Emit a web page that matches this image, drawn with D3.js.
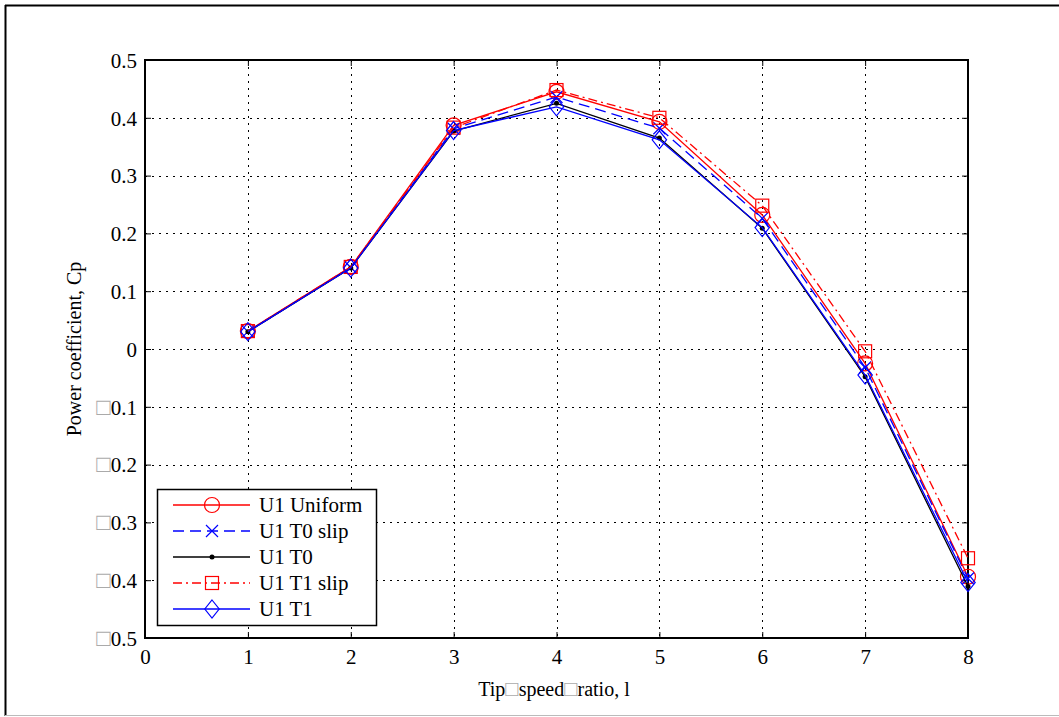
<!DOCTYPE html>
<html>
<head>
<meta charset="utf-8">
<script src="https://cdn.jsdelivr.net/npm/d3@7"></script>
<style>
  body { margin: 0; background: #fff; }
  svg text { font-family: "Liberation Serif", "Times New Roman", serif !important; fill: #000; }
</style>
</head>
<body>
<svg id="chart" width="1059" height="717"></svg>
<script>
const tsr = [1, 2, 3, 4, 5, 6, 7, 8];
const u1Uniform = [0.031, 0.142, 0.387, 0.445, 0.393, 0.232, -0.025, -0.394];
const u1T0slip = [0.030, 0.141, 0.381, 0.436, 0.382, 0.226, -0.032, -0.397];
const u1T0 = [0.030, 0.140, 0.377, 0.425, 0.365, 0.209, -0.048, -0.411];
const u1T1slip = [0.031, 0.142, 0.383, 0.448, 0.400, 0.248, -0.004, -0.362];
const u1T1 = [0.030, 0.140, 0.378, 0.419, 0.362, 0.210, -0.045, -0.404];
const xTicks = [0, 1, 2, 3, 4, 5, 6, 7, 8];
const yTicks = [0.5, 0.4, 0.3, 0.2, 0.1, 0, -0.1, -0.2, -0.3, -0.4, -0.5];

const series = [
  { name: "U1 Uniform", values: u1Uniform, color: "#ff0000", dash: null, marker: "circle" },
  { name: "U1 T0 slip", values: u1T0slip, color: "#0000ff", dash: "11,6", marker: "x" },
  { name: "U1 T0", values: u1T0, color: "#000000", dash: null, marker: "dot" },
  { name: "U1 T1 slip", values: u1T1slip, color: "#ff0000", dash: "9,4,2,4", marker: "square" },
  { name: "U1 T1", values: u1T1, color: "#0000ff", dash: null, marker: "diamond" }
];

const svg = d3.select("#chart");
const mLeft = 145, mRight = 968, mTop = 60, mBottom = 638;

// outer figure frame
svg.append("line").attr("x1", 5).attr("x2", 1059).attr("y1", 5.5).attr("y2", 5.5)
  .attr("stroke", "#000").attr("stroke-width", 2);
svg.append("line").attr("x1", 5.5).attr("x2", 5.5).attr("y1", 5).attr("y2", 716)
  .attr("stroke", "#000").attr("stroke-width", 2);
svg.append("line").attr("x1", 5).attr("x2", 1059).attr("y1", 715.5).attr("y2", 715.5)
  .attr("stroke", "#bbb").attr("stroke-width", 1);

const x = d3.scaleLinear().domain([0, 8]).range([mLeft, mRight]);
const y = d3.scaleLinear().domain([-0.5, 0.5]).range([mBottom, mTop]);

// grid
const grid = svg.append("g").attr("stroke", "#000").attr("stroke-width", 1)
  .attr("stroke-dasharray", "2,5");
grid.selectAll(".gx").data(xTicks.slice(1, -1)).join("line")
  .attr("x1", (d) => Math.round(x(d)) + 0.5).attr("x2", (d) => Math.round(x(d)) + 0.5)
  .attr("y1", mTop).attr("y2", mBottom);
grid.selectAll(".gy").data(yTicks.slice(1, -1)).join("line")
  .attr("y1", (d) => Math.round(y(d)) + 0.5).attr("y2", (d) => Math.round(y(d)) + 0.5)
  .attr("x1", mLeft).attr("x2", mRight);

// axes with inward ticks on all four sides
const fmt = (d) => (d === 0 ? "0" : d3.format(".1f")(Math.abs(d)));
const xAxis = svg.append("g").attr("transform", `translate(0,${mBottom})`)
  .call(d3.axisBottom(x).tickValues(xTicks).tickSizeInner(-6).tickSizeOuter(0).tickPadding(11));
svg.append("g").attr("transform", `translate(0,${mTop})`)
  .call(d3.axisTop(x).tickValues(xTicks).tickSizeInner(-6).tickSizeOuter(0).tickFormat(""));
const yAxis = svg.append("g").attr("transform", `translate(${mLeft},0)`)
  .call(d3.axisLeft(y).tickValues(yTicks).tickSizeInner(-6).tickSizeOuter(0).tickPadding(8).tickFormat(fmt));
svg.append("g").attr("transform", `translate(${mRight},0)`)
  .call(d3.axisRight(y).tickValues(yTicks).tickSizeInner(-6).tickSizeOuter(0).tickFormat(""));
svg.selectAll(".domain").remove();
svg.selectAll(".tick line").attr("stroke", "#000").attr("stroke-width", 1);
xAxis.selectAll("text").style("font-size", "21px");
yAxis.selectAll("text").style("font-size", "21px").attr("dy", "0.35em");
// negative labels show a missing-glyph box in place of the minus sign
yAxis.selectAll(".tick text").each(function (d) {
  if (d < 0) {
    const t = d3.select(this);
    const s = t.text();
    t.text(null);
    t.append("tspan").style("fill", "#aaa").style("font-size", "24px").text("\u25A1");
    t.append("tspan").text(s);
  }
});

svg.append("rect").attr("x", mLeft).attr("y", mTop).attr("width", mRight - mLeft)
  .attr("height", mBottom - mTop).attr("fill", "none").attr("stroke", "#000").attr("stroke-width", 2);

// lines and markers
const line = d3.line().x((d) => x(d[0])).y((d) => y(d[1]));

function drawMarker(g, type, color, cx, cy) {
  if (type === "circle") {
    g.append("circle").attr("cx", cx).attr("cy", cy).attr("r", 7.5)
      .attr("fill", "none").attr("stroke", color).attr("stroke-width", 1.2);
  } else if (type === "x") {
    const s = 6;
    g.append("path").attr("d", `M${cx - s},${cy - s}L${cx + s},${cy + s}M${cx - s},${cy + s}L${cx + s},${cy - s}`)
      .attr("stroke", color).attr("stroke-width", 1.2);
  } else if (type === "dot") {
    g.append("circle").attr("cx", cx).attr("cy", cy).attr("r", 2.5).attr("fill", color);
  } else if (type === "square") {
    g.append("rect").attr("x", cx - 6.5).attr("y", cy - 6.5).attr("width", 13).attr("height", 13)
      .attr("fill", "none").attr("stroke", color).attr("stroke-width", 1.2);
  } else if (type === "diamond") {
    const s = 9;
    g.append("path").attr("d", `M${cx},${cy - s}L${cx + s * 0.8},${cy}L${cx},${cy + s}L${cx - s * 0.8},${cy}Z`)
      .attr("fill", "none").attr("stroke", color).attr("stroke-width", 1.2);
  }
}

series.forEach((s) => {
  const pts = tsr.map((t, i) => [t, s.values[i]]);
  const g = svg.append("g");
  g.append("path").datum(pts).attr("d", line).attr("fill", "none")
    .attr("stroke", s.color).attr("stroke-width", 1.3)
    .attr("stroke-dasharray", s.dash);
  pts.forEach((p) => drawMarker(g, s.marker, s.color, x(p[0]), y(p[1])));
});

// legend
const lg = svg.append("g");
lg.append("rect").attr("x", 157.5).attr("y", 489.5).attr("width", 219).attr("height", 136)
  .attr("fill", "#fff").attr("stroke", "#000").attr("stroke-width", 1.5);
series.forEach((s, i) => {
  const ly = 505 + i * 26;
  lg.append("line").attr("x1", 173).attr("x2", 250).attr("y1", ly).attr("y2", ly)
    .attr("stroke", s.color).attr("stroke-width", 1.3).attr("stroke-dasharray", s.dash);
  drawMarker(lg, s.marker, s.color, 212, ly);
  lg.append("text").attr("x", 259).attr("y", ly).attr("dy", "0.35em")
    .style("font-size", "21px").text(s.name);
});

// axis labels
const xl = svg.append("text").attr("x", 554).attr("y", 696).attr("text-anchor", "middle")
  .style("font-size", "20px");
xl.append("tspan").text("Tip");
xl.append("tspan").style("fill", "#aaa").style("font-size", "22px").text("\u25A1");
xl.append("tspan").text("speed");
xl.append("tspan").style("fill", "#aaa").style("font-size", "22px").text("\u25A1");
xl.append("tspan").text("ratio, l");

svg.append("text").attr("transform", "translate(81,349) rotate(-90)")
  .attr("text-anchor", "middle").style("font-size", "20px").text("Power coefficient, Cp");
</script>
</body>
</html>
